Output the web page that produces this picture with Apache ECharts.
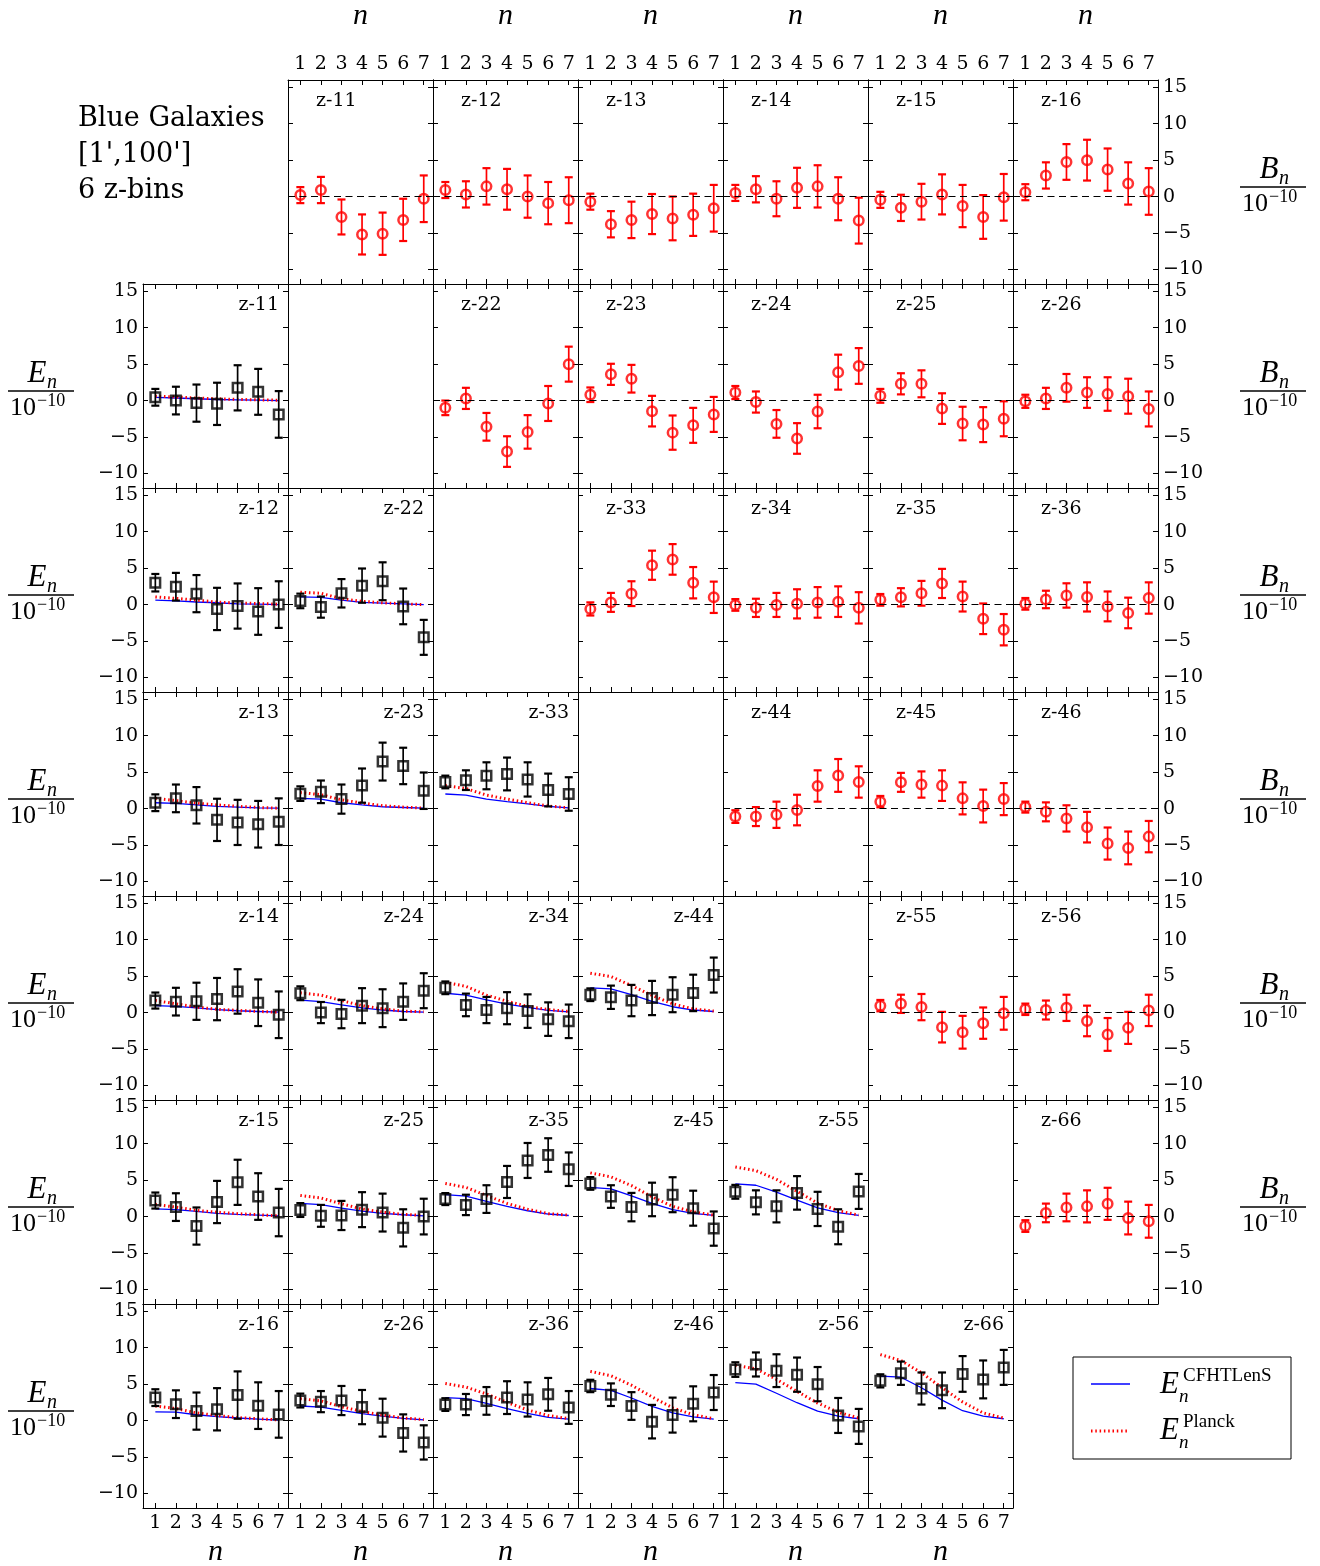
<!DOCTYPE html>
<html><head><meta charset="utf-8">
<script src="https://cdn.jsdelivr.net/npm/echarts@6/dist/echarts.min.js"></script>
<style>html,body{margin:0;padding:0;background:#fff}#chart{width:1320px;height:1566px}</style>
</head><body><div id="chart"></div>
<script>
// ---------------- data ----------------
const nValues = [1, 2, 3, 4, 5, 6, 7];
const xTicks = [1, 2, 3, 4, 5, 6, 7];
const yTicks = [-10, -5, 0, 5, 10, 15];

// B-modes (red circles)
const B_11 = [0.2, 0.9, -2.8, -5.2, -5.1, -3.2, -0.3];
const B_11_err = [1.1, 1.8, 2.4, 2.75, 2.9, 2.9, 3.2];
const B_12 = [0.9, 0.3, 1.4, 1.0, 0.0, -0.9, -0.5];
const B_12_err = [1.1, 1.8, 2.5, 2.8, 2.9, 2.9, 3.15];
const B_13 = [-0.7, -3.8, -3.2, -2.4, -3.0, -2.5, -1.6];
const B_13_err = [1.1, 1.8, 2.5, 2.75, 3.0, 2.9, 3.2];
const B_14 = [0.5, 1.0, -0.3, 1.2, 1.4, -0.3, -3.3];
const B_14_err = [1.1, 1.8, 2.4, 2.75, 2.9, 2.95, 3.15];
const B_15 = [-0.45, -1.55, -0.7, 0.3, -1.3, -2.8, -0.1];
const B_15_err = [1.1, 1.8, 2.45, 2.75, 2.9, 3.0, 3.2];
const B_16 = [0.6, 2.9, 4.75, 5.0, 3.7, 1.8, 0.7];
const B_16_err = [1.1, 1.8, 2.45, 2.8, 2.9, 2.9, 3.2];
const B_22 = [-1.0, 0.3, -3.6, -7.0, -4.3, -0.4, 5.0];
const B_22_err = [1.0, 1.45, 1.9, 2.1, 2.3, 2.4, 2.4];
const B_23 = [0.8, 3.6, 3.0, -1.45, -4.4, -3.4, -1.9];
const B_23_err = [1.0, 1.45, 1.9, 2.1, 2.35, 2.4, 2.4];
const B_24 = [1.1, -0.2, -3.2, -5.2, -1.5, 3.9, 4.75];
const B_24_err = [0.9, 1.45, 1.9, 2.1, 2.3, 2.4, 2.45];
const B_25 = [0.65, 2.3, 2.3, -1.1, -3.15, -3.3, -2.5];
const B_25_err = [0.95, 1.45, 1.85, 2.1, 2.3, 2.4, 2.4];
const B_26 = [-0.1, 0.3, 1.75, 1.1, 0.9, 0.6, -1.15];
const B_26_err = [0.9, 1.45, 1.9, 2.1, 2.3, 2.4, 2.4];
const B_33 = [-0.6, 0.3, 1.5, 5.4, 6.2, 3.0, 1.0];
const B_33_err = [0.9, 1.3, 1.7, 2.0, 2.1, 2.15, 2.15];
const B_34 = [-0.05, -0.45, -0.05, 0.1, 0.3, 0.4, -0.45];
const B_34_err = [0.8, 1.25, 1.65, 2.0, 2.1, 2.1, 2.15];
const B_35 = [0.65, 1.0, 1.55, 2.9, 1.1, -1.95, -3.45];
const B_35_err = [0.8, 1.25, 1.7, 2.0, 2.05, 2.1, 2.15];
const B_36 = [0.1, 0.7, 1.25, 1.05, -0.25, -1.15, 0.9];
const B_36_err = [0.8, 1.2, 1.67, 2.0, 2.05, 2.1, 2.15];
const B_44 = [-1.1, -1.1, -0.85, -0.2, 3.1, 4.55, 3.65];
const B_44_err = [0.87, 1.3, 1.8, 2.1, 2.15, 2.25, 2.15];
const B_45 = [0.95, 3.6, 3.3, 3.15, 1.4, 0.35, 1.3];
const B_45_err = [0.78, 1.3, 1.8, 2.1, 2.2, 2.25, 2.2];
const B_46 = [0.2, -0.45, -1.35, -2.55, -4.8, -5.4, -3.85];
const B_46_err = [0.75, 1.3, 1.8, 2.1, 2.2, 2.25, 2.15];
const B_55 = [0.95, 1.2, 0.75, -2.0, -2.7, -1.45, -0.1];
const B_55_err = [0.78, 1.25, 1.8, 2.1, 2.25, 2.15, 2.25];
const B_56 = [0.45, 0.35, 0.65, -1.15, -3.0, -2.1, 0.3];
const B_56_err = [0.78, 1.3, 1.8, 2.1, 2.25, 2.2, 2.15];
const B_66 = [-1.3, 0.5, 1.25, 1.4, 1.75, -0.2, -0.65];
const B_66_err = [0.8, 1.28, 1.9, 2.2, 2.2, 2.25, 2.25];

// E-modes (black squares) + models
const E_11 = [0.45, 0.0, -0.35, -0.45, 1.75, 1.2, -1.9];
const E_11_err = [1.15, 1.9, 2.55, 2.9, 3.1, 3.15, 3.2];
const E_11_cfhtlens = [0.45, 0.35, 0.25, 0.15, 0.1, 0.05, 0.0];
const E_11_planck = [0.6, 0.5, 0.35, 0.25, 0.15, 0.1, 0.05];
const E_12 = [3.0, 2.45, 1.5, -0.6, -0.2, -0.95, 0.0];
const E_12_err = [1.2, 1.9, 2.55, 2.9, 3.1, 3.2, 3.2];
const E_12_cfhtlens = [0.6, 0.5, 0.35, 0.25, 0.1, 0.05, 0.0];
const E_12_planck = [1.05, 0.85, 0.6, 0.35, 0.2, 0.15, 0.05];
const E_22 = [0.5, -0.35, 1.55, 2.6, 3.2, -0.25, -4.5];
const E_22_err = [1.0, 1.45, 1.95, 2.35, 2.6, 2.45, 2.4];
const E_22_cfhtlens = [1.05, 1.0, 0.6, 0.3, 0.2, 0.1, 0.0];
const E_22_planck = [1.7, 1.55, 0.8, 0.45, 0.25, 0.1, 0.0];
const E_13 = [0.8, 1.4, 0.45, -1.55, -1.9, -2.15, -1.8];
const E_13_err = [1.15, 1.9, 2.5, 2.9, 3.1, 3.2, 3.2];
const E_13_cfhtlens = [0.8, 0.7, 0.5, 0.3, 0.2, 0.1, 0.05];
const E_13_planck = [1.4, 1.1, 0.75, 0.5, 0.3, 0.15, 0.05];
const E_23 = [2.05, 2.3, 1.3, 3.15, 6.45, 5.85, 2.45];
const E_23_err = [1.0, 1.55, 2.0, 2.35, 2.6, 2.5, 2.5];
const E_23_cfhtlens = [1.4, 1.3, 0.8, 0.5, 0.25, 0.15, 0.05];
const E_23_planck = [2.2, 1.9, 1.2, 0.75, 0.4, 0.2, 0.05];
const E_33 = [3.65, 3.9, 4.5, 4.75, 4.0, 2.55, 2.0];
const E_33_err = [0.87, 1.35, 1.85, 2.25, 2.35, 2.25, 2.3];
const E_33_cfhtlens = [2.0, 1.85, 1.3, 0.95, 0.65, 0.3, 0.1];
const E_33_planck = [3.15, 2.75, 1.85, 1.3, 0.8, 0.35, 0.1];
const E_14 = [1.65, 1.5, 1.55, 1.85, 2.9, 1.35, -0.3];
const E_14_err = [1.1, 1.9, 2.55, 2.9, 3.05, 3.2, 3.2];
const E_14_cfhtlens = [0.95, 0.85, 0.65, 0.4, 0.25, 0.15, 0.05];
const E_14_planck = [1.65, 1.2, 0.75, 0.45, 0.3, 0.15, 0.05];
const E_24 = [2.65, 0.0, -0.2, 0.95, 0.6, 1.5, 3.0];
const E_24_err = [0.95, 1.45, 1.95, 2.4, 2.6, 2.5, 2.4];
const E_24_cfhtlens = [1.7, 1.5, 1.05, 0.65, 0.35, 0.15, 0.05];
const E_24_planck = [2.7, 2.4, 1.65, 0.95, 0.5, 0.2, 0.1];
const E_34 = [3.4, 1.05, 0.35, 0.6, 0.2, -0.9, -1.2];
const E_34_err = [0.87, 1.55, 1.8, 2.2, 2.3, 2.3, 2.3];
const E_34_cfhtlens = [2.65, 2.4, 1.75, 1.15, 0.7, 0.3, 0.1];
const E_34_planck = [4.15, 3.6, 2.4, 1.55, 0.85, 0.4, 0.15];
const E_44 = [2.45, 2.1, 1.65, 2.0, 2.45, 2.7, 5.15];
const E_44_err = [0.87, 1.6, 2.15, 2.35, 2.4, 2.5, 2.4];
const E_44_cfhtlens = [3.4, 3.25, 2.45, 1.55, 0.8, 0.35, 0.15];
const E_44_planck = [5.4, 4.95, 3.7, 2.35, 1.2, 0.5, 0.2];
const E_15 = [2.2, 1.3, -1.3, 2.0, 4.7, 2.75, 0.55];
const E_15_err = [1.1, 1.9, 2.55, 2.9, 3.1, 3.2, 3.25];
const E_15_cfhtlens = [1.05, 0.95, 0.7, 0.45, 0.3, 0.2, 0.1];
const E_15_planck = [1.65, 1.3, 0.85, 0.6, 0.4, 0.25, 0.1];
const E_25 = [0.9, 0.1, 0.15, 0.95, 0.55, -1.55, 0.0];
const E_25_err = [0.95, 1.5, 2.0, 2.4, 2.6, 2.55, 2.45];
const E_25_cfhtlens = [1.8, 1.65, 1.15, 0.75, 0.45, 0.25, 0.1];
const E_25_planck = [2.9, 2.55, 1.75, 1.05, 0.6, 0.3, 0.15];
const E_35 = [2.4, 1.6, 2.4, 4.75, 7.7, 8.45, 6.5];
const E_35_err = [0.82, 1.4, 1.9, 2.2, 2.4, 2.3, 2.3];
const E_35_cfhtlens = [3.0, 2.8, 2.1, 1.4, 0.8, 0.35, 0.15];
const E_35_planck = [4.55, 4.0, 2.9, 1.8, 1.0, 0.4, 0.2];
const E_45 = [4.55, 2.75, 1.3, 2.35, 3.0, 1.15, -1.65];
const E_45_err = [0.87, 1.55, 1.95, 2.3, 2.4, 2.4, 2.35];
const E_45_cfhtlens = [4.0, 3.8, 2.85, 1.8, 0.95, 0.45, 0.15];
const E_45_planck = [6.0, 5.45, 4.25, 2.7, 1.4, 0.65, 0.2];
const E_55 = [3.4, 1.95, 1.4, 3.25, 1.05, -1.4, 3.45];
const E_55_err = [0.95, 1.65, 2.2, 2.3, 2.35, 2.4, 2.4];
const E_55_cfhtlens = [4.5, 4.3, 3.35, 2.25, 1.2, 0.55, 0.15];
const E_55_planck = [6.8, 6.3, 5.1, 3.45, 1.85, 0.8, 0.2];
const E_16 = [3.15, 2.25, 1.3, 1.55, 3.5, 2.05, 0.85];
const E_16_err = [1.15, 1.9, 2.55, 2.9, 3.25, 3.2, 3.2];
const E_16_cfhtlens = [1.2, 1.15, 0.8, 0.55, 0.35, 0.2, 0.05];
const E_16_planck = [2.0, 1.65, 1.05, 0.7, 0.4, 0.25, 0.1];
const E_26 = [2.75, 2.6, 2.75, 1.85, 0.4, -1.7, -3.0];
const E_26_err = [0.95, 1.45, 2.0, 2.35, 2.6, 2.55, 2.35];
const E_26_cfhtlens = [2.0, 1.85, 1.4, 0.95, 0.6, 0.3, 0.1];
const E_26_planck = [3.0, 2.7, 1.9, 1.25, 0.75, 0.35, 0.15];
const E_36 = [2.2, 2.2, 2.7, 3.15, 2.9, 3.6, 1.8];
const E_36_err = [0.87, 1.45, 1.9, 2.25, 2.35, 2.25, 2.25];
const E_36_cfhtlens = [3.15, 3.0, 2.35, 1.65, 1.0, 0.45, 0.2];
const E_36_planck = [5.1, 4.6, 3.65, 2.5, 1.45, 0.7, 0.25];
const E_46 = [4.75, 3.55, 2.0, -0.15, 0.75, 2.3, 3.85];
const E_46_err = [0.85, 1.55, 1.9, 2.3, 2.4, 2.4, 2.4];
const E_46_cfhtlens = [4.4, 4.15, 3.1, 1.95, 1.05, 0.5, 0.2];
const E_46_planck = [6.75, 6.15, 4.85, 3.25, 1.75, 0.8, 0.25];
const E_56 = [7.0, 7.7, 6.85, 6.3, 5.0, 0.7, -0.8];
const E_56_err = [1.0, 1.65, 2.25, 2.35, 2.35, 2.4, 2.4];
const E_56_cfhtlens = [5.2, 5.0, 3.75, 2.45, 1.3, 0.6, 0.25];
const E_56_planck = [7.6, 7.1, 5.65, 4.0, 2.4, 1.15, 0.35];
const E_66 = [5.45, 6.5, 4.4, 4.15, 6.4, 5.65, 7.3];
const E_66_err = [0.9, 1.6, 2.2, 2.45, 2.45, 2.6, 2.4];
const E_66_cfhtlens = [6.1, 5.95, 4.5, 2.8, 1.35, 0.6, 0.25];
const E_66_planck = [9.05, 8.25, 6.55, 4.5, 2.55, 1.05, 0.35];

// lookup tables built from the named arrays
const B_PANELS = {
  '11': [B_11, B_11_err], '12': [B_12, B_12_err], '13': [B_13, B_13_err], '14': [B_14, B_14_err],
  '15': [B_15, B_15_err], '16': [B_16, B_16_err], '22': [B_22, B_22_err], '23': [B_23, B_23_err],
  '24': [B_24, B_24_err], '25': [B_25, B_25_err], '26': [B_26, B_26_err], '33': [B_33, B_33_err],
  '34': [B_34, B_34_err], '35': [B_35, B_35_err], '36': [B_36, B_36_err], '44': [B_44, B_44_err],
  '45': [B_45, B_45_err], '46': [B_46, B_46_err], '55': [B_55, B_55_err], '56': [B_56, B_56_err],
  '66': [B_66, B_66_err]
};
const E_PANELS = {
  '11': [E_11, E_11_err, E_11_cfhtlens, E_11_planck], '12': [E_12, E_12_err, E_12_cfhtlens, E_12_planck],
  '22': [E_22, E_22_err, E_22_cfhtlens, E_22_planck], '13': [E_13, E_13_err, E_13_cfhtlens, E_13_planck],
  '23': [E_23, E_23_err, E_23_cfhtlens, E_23_planck], '33': [E_33, E_33_err, E_33_cfhtlens, E_33_planck],
  '14': [E_14, E_14_err, E_14_cfhtlens, E_14_planck], '24': [E_24, E_24_err, E_24_cfhtlens, E_24_planck],
  '34': [E_34, E_34_err, E_34_cfhtlens, E_34_planck], '44': [E_44, E_44_err, E_44_cfhtlens, E_44_planck],
  '15': [E_15, E_15_err, E_15_cfhtlens, E_15_planck], '25': [E_25, E_25_err, E_25_cfhtlens, E_25_planck],
  '35': [E_35, E_35_err, E_35_cfhtlens, E_35_planck], '45': [E_45, E_45_err, E_45_cfhtlens, E_45_planck],
  '55': [E_55, E_55_err, E_55_cfhtlens, E_55_planck], '16': [E_16, E_16_err, E_16_cfhtlens, E_16_planck],
  '26': [E_26, E_26_err, E_26_cfhtlens, E_26_planck], '36': [E_36, E_36_err, E_36_cfhtlens, E_36_planck],
  '46': [E_46, E_46_err, E_46_cfhtlens, E_46_planck], '56': [E_56, E_56_err, E_56_cfhtlens, E_56_planck],
  '66': [E_66, E_66_err, E_66_cfhtlens, E_66_planck]
};

// ---------------- layout ----------------
const L0 = 143, T0 = 80, CW = 145, RH = 204;
const X_MIN = 0.4, X_MAX = 7.45, Y_MIN = -12, Y_MAX = 16;
const SERIF = "'DejaVu Serif', serif";
const MATH = "'Liberation Serif', 'DejaVu Serif', serif";

function errRender(color) {
  return function (params, api) {
    const x = api.value(0), y = api.value(1), e = api.value(2);
    const p1 = api.coord([x, y + e]), p2 = api.coord([x, y - e]);
    const h = 4;
    return {
      type: 'group', children: [
        { type: 'line', shape: { x1: p1[0], y1: p1[1], x2: p2[0], y2: p2[1] }, style: { stroke: color, lineWidth: 1.7 } },
        { type: 'line', shape: { x1: p1[0] - h, y1: p1[1], x2: p1[0] + h, y2: p1[1] }, style: { stroke: color, lineWidth: 2.2 } },
        { type: 'line', shape: { x1: p2[0] - h, y1: p2[1], x2: p2[0] + h, y2: p2[1] }, style: { stroke: color, lineWidth: 2.2 } }
      ]
    };
  };
}

const grids = [], xAxes = [], yAxes = [], series = [], graphics = [];
const fmtY = v => String(v).replace('-', '\u2212');

function addAxes(g, r, c) {
  const tickCommon = { show: true, inside: true, length: 5, lineStyle: { color: '#000', width: 1 } };
  const lineCommon = { show: true, onZero: false, lineStyle: { color: '#000', width: 1 } };
  const lblX = show => ({ show, customValues: xTicks, fontFamily: SERIF, fontSize: 19, color: '#000', margin: 6 });
  const lblY = show => ({ show, customValues: yTicks, fontFamily: SERIF, fontSize: 19, color: '#000', margin: 5, formatter: fmtY });
  xAxes.push({ type: 'value', gridIndex: g, position: 'bottom', min: X_MIN, max: X_MAX,
    axisLine: lineCommon, axisTick: Object.assign({ customValues: xTicks }, tickCommon),
    axisLabel: lblX(r === 6), splitLine: { show: false } });
  xAxes.push({ type: 'value', gridIndex: g, position: 'top', min: X_MIN, max: X_MAX,
    axisLine: lineCommon, axisTick: Object.assign({ customValues: xTicks }, tickCommon),
    axisLabel: lblX(r === 0), splitLine: { show: false } });
  yAxes.push({ type: 'value', gridIndex: g, position: 'left', min: Y_MIN, max: Y_MAX,
    axisLine: lineCommon, axisTick: Object.assign({ customValues: yTicks }, tickCommon),
    axisLabel: lblY(c === 0), splitLine: { show: false } });
  yAxes.push({ type: 'value', gridIndex: g, position: 'right', min: Y_MIN, max: Y_MAX,
    axisLine: lineCommon, axisTick: Object.assign({ customValues: yTicks }, tickCommon),
    axisLabel: lblY(c === 6), splitLine: { show: false } });
}

let g = 0;
for (let r = 0; r < 7; r++) {
  for (let c = 0; c < 7; c++) {
    if (c === r) continue;
    const left = L0 + c * CW, top = T0 + r * RH;
    grids.push({ left, top, width: CW, height: RH, containLabel: false, outerBoundsMode: 'none' });
    addAxes(g, r, c);
    const xi = 2 * g, yi = 2 * g;
    if (c > r) {
      const key = `${r + 1}${c}`;
      const [vals, errs] = B_PANELS[key];
      series.push({ type: 'custom', name: 'B err ' + key, xAxisIndex: xi, yAxisIndex: yi, renderItem: errRender('#ff0000'),
        encode: { x: 0, y: 1 }, data: nValues.map((n, i) => [n, vals[i], errs[i]]), z: 3, silent: true });
      series.push({ type: 'scatter', name: 'B ' + key, xAxisIndex: xi, yAxisIndex: yi, symbol: 'circle', symbolSize: 9.5,
        itemStyle: { color: 'rgba(0,0,0,0)', borderColor: '#ff0000', borderWidth: 2.5 },
        data: nValues.map((n, i) => [n, vals[i]]), z: 4, silent: true,
        markLine: { silent: true, symbol: 'none', label: { show: false },
          lineStyle: { color: '#000', width: 1.2, type: [7, 4.5] }, data: [{ yAxis: 0 }] } });
      graphics.push({ type: 'text', left: left + 28, top: top + 12, style: { text: 'z-' + key, font: `19px ${SERIF}`, fill: '#000' }, z: 10 });
    } else {
      const key = `${c + 1}${r}`;
      const [vals, errs, cf, pl] = E_PANELS[key];
      series.push({ type: 'line', name: 'E_n^CFHTLenS ' + key, xAxisIndex: xi, yAxisIndex: yi, symbol: 'none', showSymbol: false,
        lineStyle: { color: '#0000ff', width: 1.3 }, data: nValues.map((n, i) => [n, cf[i]]), z: 2, silent: true });
      series.push({ type: 'line', name: 'E_n^Planck ' + key, xAxisIndex: xi, yAxisIndex: yi, symbol: 'none', showSymbol: false,
        lineStyle: { color: '#ff0000', width: 3, type: [1.5, 2.8] }, data: nValues.map((n, i) => [n, pl[i]]), z: 2, silent: true });
      series.push({ type: 'custom', name: 'E err ' + key, xAxisIndex: xi, yAxisIndex: yi, renderItem: errRender('#000'),
        encode: { x: 0, y: 1 }, data: nValues.map((n, i) => [n, vals[i], errs[i]]), z: 3, silent: true });
      series.push({ type: 'scatter', name: 'E ' + key, xAxisIndex: xi, yAxisIndex: yi, symbol: 'rect', symbolSize: 9.5,
        itemStyle: { color: 'rgba(0,0,0,0)', borderColor: '#000', borderWidth: 2.5 },
        data: nValues.map((n, i) => [n, vals[i]]), z: 4, silent: true });
      graphics.push({ type: 'text', right: 1320 - (left + CW) + 9, top: top + 12, style: { text: 'z-' + key, font: `19px ${SERIF}`, fill: '#000' }, z: 10 });
    }
    g++;
  }
}

// n axis titles
for (let c = 1; c <= 6; c++) {
  graphics.push({ type: 'text', x: L0 + c * CW + CW / 2, y: 16, style: { text: 'n', font: `italic 30px ${MATH}`, fill: '#000', align: 'center', verticalAlign: 'middle' } });
}
for (let c = 0; c <= 5; c++) {
  graphics.push({ type: 'text', x: L0 + c * CW + CW / 2, y: 1552, style: { text: 'n', font: `italic 30px ${MATH}`, fill: '#000', align: 'center', verticalAlign: 'middle' } });
}

// fraction labels E_n / 10^-10 and B_n / 10^-10
function frac(letter, cx, barY) {
  graphics.push({ type: 'text', x: cx - 4, y: barY - 17, style: { text: letter, font: `italic 31px ${MATH}`, fill: '#000', align: 'center', verticalAlign: 'middle' } });
  graphics.push({ type: 'text', x: cx + 6, y: barY - 8, style: { text: 'n', font: `italic 20px ${MATH}`, fill: '#000', align: 'left', verticalAlign: 'middle' } });
  graphics.push({ type: 'line', shape: { x1: cx - 33, y1: barY, x2: cx + 33, y2: barY }, style: { stroke: '#000', lineWidth: 1.6 } });
  graphics.push({ type: 'text', x: cx - 5, y: barY + 17, style: { text: '10', font: `26px ${MATH}`, fill: '#000', align: 'right', verticalAlign: 'middle' } });
  graphics.push({ type: 'text', x: cx - 4, y: barY + 10, style: { text: '\u221210', font: `18px ${MATH}`, fill: '#000', align: 'left', verticalAlign: 'middle' } });
}
for (let r = 1; r <= 6; r++) frac('E', 41, T0 + r * RH + 107);
for (let r = 0; r <= 5; r++) frac('B', 1273, T0 + r * RH + 107);

// title block
['Blue Galaxies', "[1',100']", '6 z-bins'].forEach((t, i) => {
  graphics.push({ type: 'text', x: 78, y: 119 + 36 * i, style: { text: t, font: `27px ${SERIF}`, fill: '#000', align: 'left', verticalAlign: 'middle' } });
});

// legend box
graphics.push({ type: 'rect', shape: { x: 1073, y: 1357, width: 218, height: 102 }, style: { fill: '#fff', stroke: '#000', lineWidth: 1 }, z: 5 });
graphics.push({ type: 'line', shape: { x1: 1091, y1: 1384, x2: 1130, y2: 1384 }, style: { stroke: '#0000ff', lineWidth: 1.3 }, z: 6 });
graphics.push({ type: 'line', shape: { x1: 1091, y1: 1431, x2: 1127, y2: 1431 }, style: { stroke: '#ff0000', lineWidth: 3, lineDash: [1.5, 2.8] }, z: 6 });
[['CFHTLenS', 1385], ['Planck', 1431]].forEach(([sup, cy]) => {
  graphics.push({ type: 'text', x: 1160, y: cy, style: { text: 'E', font: `italic 31px ${MATH}`, fill: '#000', align: 'left', verticalAlign: 'middle' }, z: 6 });
  graphics.push({ type: 'text', x: 1179, y: cy + 12, style: { text: 'n', font: `italic 19px ${MATH}`, fill: '#000', align: 'left', verticalAlign: 'middle' }, z: 6 });
  graphics.push({ type: 'text', x: 1183, y: cy - 9, style: { text: sup, font: `19px ${MATH}`, fill: '#000', align: 'left', verticalAlign: 'middle' }, z: 6 });
});

const chart = echarts.init(document.getElementById('chart'), null, { renderer: 'canvas' });
chart.setOption({
  animation: false,
  backgroundColor: '#fff',
  grid: grids,
  xAxis: xAxes,
  yAxis: yAxes,
  series: series,
  graphic: { elements: graphics }
});
</script></body></html>
